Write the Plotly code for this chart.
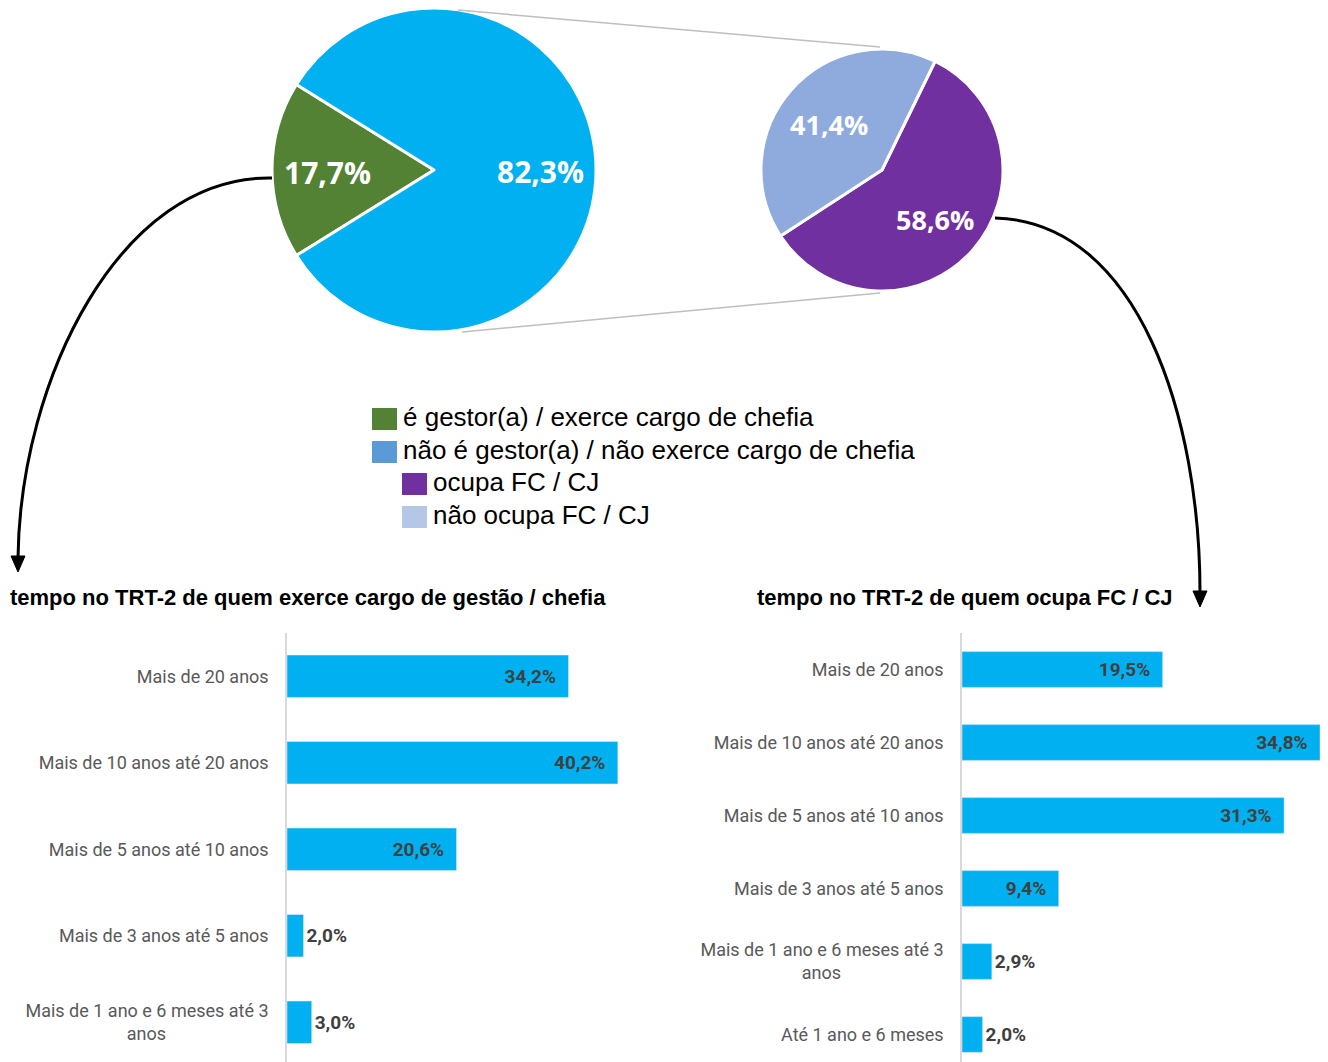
import math
import plotly.graph_objects as go

# figure is placed by the page at (8, 8); all positions below are given in screen pixels
OFF = 8
W, H = 1320, 1054

# ---------------- data ----------------
pie1_labels = ["é gestor(a) / exerce cargo de chefia", "não é gestor(a) / não exerce cargo de chefia"]
pie1_values = [17.7, 82.3]
pie1_colors = ["#548235", "#00B0F0"]

pie2_labels = ["ocupa FC / CJ", "não ocupa FC / CJ"]
pie2_values = [58.6, 41.4]
pie2_colors = ["#7030A0", "#8FAADC"]

legend_labels = ["é gestor(a) / exerce cargo de chefia", "não é gestor(a) / não exerce cargo de chefia",
                 "ocupa FC / CJ", "não ocupa FC / CJ"]
legend_colors = ["#548235", "#5B9BD5", "#7030A0", "#B4C7E7"]

nbsp = "\u00a0"
bar1_categories = ["Mais de 20 anos", "Mais de 10 anos até 20 anos", "Mais de 5 anos até 10 anos",
                   "Mais de 3 anos até 5 anos", "Mais de 1 ano e 6 meses até 3<br>anos" + nbsp * 23]
bar1_values = [34.2, 40.2, 20.6, 2.0, 3.0]
bar1_title = "tempo no TRT-2 de quem exerce cargo de gestão / chefia"

bar2_categories = ["Mais de 20 anos", "Mais de 10 anos até 20 anos", "Mais de 5 anos até 10 anos",
                   "Mais de 3 anos até 5 anos", "Mais de 1 ano e 6 meses até 3<br>anos" + nbsp * 23,
                   "Até 1 ano e 6 meses"]
bar2_values = [19.5, 34.8, 31.3, 9.4, 2.9, 2.0]
bar2_title = "tempo no TRT-2 de quem ocupa FC / CJ"

LABEL_FONT = "Roboto, Open Sans, sans-serif"
PIE_FONT = "Open Sans, sans-serif"
BAR_COLOR = "#00B0F0"


def fx(x):
    return (x - OFF) / W


def fy(y):
    return 1 - (y - OFF) / H


def fmt(v):
    return f"{v:.1f}%".replace(".", ",")


fig = go.Figure()

# ---------------- pies ----------------
pie_specs = [
    # values, colors, labels, rotation, (x0, x1, y0, y1) screen box, label radius factor, font size
    (pie1_values, pie1_colors, pie1_labels, 270 - pie1_values[0] * 3.6 / 2, (272, 596, 8, 332), 0.66, 30),
    (pie2_values, pie2_colors, pie2_labels, 26, (761, 1003, 49, 291), 0.59, 27),
]
annotations = []
for vals, cols, labs, rot, (x0, x1, y0, y1), k, fs in pie_specs:
    fig.add_trace(go.Pie(
        labels=labs, values=vals, sort=False, direction="clockwise", rotation=rot,
        marker=dict(colors=cols, line=dict(color="white", width=3)),
        textinfo="none",
        domain=dict(x=[fx(x0), fx(x1)], y=[fy(y1), fy(y0)]),
        showlegend=False, hoverinfo="label+value",
    ))
    # value labels placed along each slice's mid-angle
    cx, cy, r = (x0 + x1) / 2, (y0 + y1) / 2, (x1 - x0) / 2
    start = rot
    tot = sum(vals)
    for v in vals:
        ext = v / tot * 360
        mid = math.radians(start + ext / 2)
        lx = cx + k * r * math.sin(mid)
        ly = cy - k * r * math.cos(mid)
        annotations.append(dict(text=fmt(v), xref="paper", yref="paper", x=fx(lx), y=fy(ly + 2),
                                xanchor="center", yanchor="middle", showarrow=False,
                                font=dict(family=PIE_FONT, size=fs, color="white", weight="bold")))
        start += ext

# ---------------- bars ----------------
for cats, vals, xa, ya in [(bar1_categories, bar1_values, "x", "y"),
                           (bar2_categories, bar2_values, "x2", "y2")]:
    fig.add_trace(go.Bar(
        y=cats, x=vals, orientation="h", marker_color=BAR_COLOR,
        text=[fmt(v) + (nbsp * 2 if v > 5 else "") for v in vals],
        textposition=["inside" if v > 5 else "outside" for v in vals],
        insidetextanchor="end", constraintext="none",
        textfont=dict(family=LABEL_FONT, size=19, color="#404040", weight="bold"),
        cliponaxis=False, xaxis=xa, yaxis=ya, showlegend=False,
    ))

band1 = 86.5
band2 = 73.0
plot_top = 633
plot_bottom = 1062
plot_h = plot_bottom - plot_top

yax_common = dict(
    type="category", showline=True, linecolor="#D9D9D9", linewidth=1.5, ticks="",
    showgrid=False, zeroline=False, ticklabelstandoff=13,
    tickfont=dict(family=LABEL_FONT, size=18, color="#595959"),
    domain=[fy(plot_bottom), fy(plot_top)],
)

fig.update_layout(
    width=W, height=H, margin=dict(l=0, r=0, t=0, b=0),
    paper_bgcolor="white", plot_bgcolor="rgba(0,0,0,0)",
    separators=",.",
    bargap=0.51,
    xaxis=dict(domain=[fx(287), fx(287 + 45 * 8.23)], range=[0, 45], visible=False),
    yaxis=dict(**yax_common, anchor="x", range=[-0.5 + plot_h / band1, -0.5]),
    xaxis2=dict(domain=[fx(962), fx(962 + 35 * 10.29)], range=[0, 35], visible=False),
    yaxis2=dict(**yax_common, anchor="x2", range=[-0.5 + plot_h / band2, -0.5]),
)

TITLE_FONT = dict(family="Liberation Sans, Arial, sans-serif", size=22, color="black", weight="bold")
annotations += [
    dict(text=bar1_title, xref="paper", yref="paper", x=fx(8), y=fy(597),
         xanchor="left", yanchor="middle", showarrow=False, font=TITLE_FONT),
    dict(text=bar2_title, xref="paper", yref="paper", x=fx(755), y=fy(597),
         xanchor="left", yanchor="middle", showarrow=False, font=TITLE_FONT),
]

shapes = []
# legend (manual)
leg_rows = [(372, 419), (372, 452), (402, 484), (402, 517)]
for (lx, ly), lab, col in zip(leg_rows, legend_labels, legend_colors):
    shapes.append(dict(type="rect", xref="paper", yref="paper",
                       x0=fx(lx), x1=fx(lx + 25), y0=fy(ly - 11), y1=fy(ly + 11),
                       fillcolor=col, line=dict(width=0)))
    annotations.append(dict(text=lab, xref="paper", yref="paper", x=fx(lx + 29), y=fy(ly - 2),
                            xanchor="left", yanchor="middle", showarrow=False,
                            font=dict(family="Liberation Sans, Arial, sans-serif", size=26, color="black")))

# connector lines between pies
shapes.append(dict(type="line", xref="paper", yref="paper", x0=fx(458), y0=fy(10), x1=fx(880), y1=fy(47),
                   line=dict(color="#BFBFBF", width=1.5)))
shapes.append(dict(type="line", xref="paper", yref="paper", x0=fx(462), y0=fy(332), x1=fx(880), y1=fy(293),
                   line=dict(color="#BFBFBF", width=1.5)))


def path(points, cmd):
    parts = []
    for c, pts in zip(cmd, points):
        parts.append(c + " " + " ".join(f"{fx(x):.5f},{fy(y):.5f}" for x, y in pts))
    return " ".join(parts)


# curved arrows
shapes.append(dict(type="path", xref="paper", yref="paper",
                   path=path([[(272, 178)], [(120, 175), (20, 380), (18, 558)]], ["M", "C"]),
                   line=dict(color="black", width=3)))
shapes.append(dict(type="path", xref="paper", yref="paper",
                   path=path([[(11, 556)], [(25, 556)], [(18, 572)]], ["M", "L", "L"]) + " Z",
                   fillcolor="black", line=dict(color="black", width=1)))
shapes.append(dict(type="path", xref="paper", yref="paper",
                   path=path([[(995, 218)], [(1140, 222), (1200, 420), (1200, 592)]], ["M", "C"]),
                   line=dict(color="black", width=3)))
shapes.append(dict(type="path", xref="paper", yref="paper",
                   path=path([[(1193, 591)], [(1207, 591)], [(1200, 607)]], ["M", "L", "L"]) + " Z",
                   fillcolor="black", line=dict(color="black", width=1)))

fig.update_layout(annotations=annotations, shapes=shapes)

fig.write_html("out.html")
